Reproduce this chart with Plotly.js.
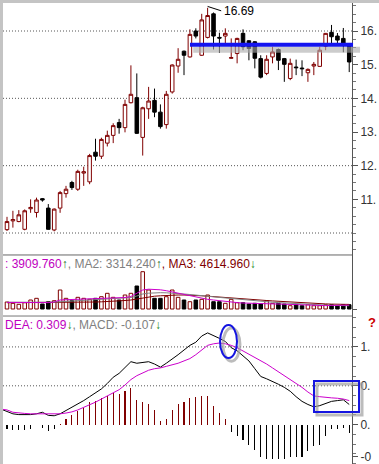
<!DOCTYPE html>
<html><head><meta charset="utf-8">
<script src="https://cdn.plot.ly/plotly-3.0.1.min.js"></script>
<style>
html,body{margin:0;padding:0;background:#fff;overflow:hidden;}
#wrap{position:absolute;left:0;top:0;width:379px;height:464px;background:#c4c4c4;}
#chart{position:absolute;left:3px;top:3px;width:376px;height:461px;background:#fff;overflow:hidden;}
</style></head><body>
<div id="wrap"><div id="chart"></div></div>
<script>
// ---- price data (daily candles) ----
const open  = [10.10,10.36,10.34,10.11,10.72,10.61,11.02,10.74,10.09,10.74,11.17,11.50,11.30,11.78,11.52,12.40,12.28,12.67,12.90,13.28,13.13,13.87,14.02,12.84,13.69,13.94,13.59,13.22,14.19,14.96,15.40,15.23,16.00,15.28,15.81,16.51,15.81,15.85,15.19,15.33,15.93,15.71,15.68,15.18,14.74,15.23,15.45,15.18,14.59,14.93,14.90,14.76,14.96,14.95,15.55,15.96,15.85,15.78,15.63];
const high  = [10.48,10.66,10.68,10.70,11.00,11.05,11.04,10.86,10.73,11.25,11.40,11.55,11.88,11.97,12.35,12.80,12.83,13.04,13.26,13.39,13.96,14.98,14.74,13.75,14.34,14.29,13.82,14.22,15.01,15.49,15.42,16.05,16.08,16.51,16.69,16.55,15.95,16.08,15.78,15.80,16.05,15.73,15.70,15.28,15.28,15.53,15.48,15.20,15.18,15.15,15.13,14.89,15.08,15.53,15.94,16.18,15.94,16.09,15.64];
const low   = [10.06,10.16,10.32,10.08,10.60,10.46,10.93,10.10,10.05,10.60,11.05,11.28,11.25,11.40,11.45,12.15,12.20,12.57,12.67,12.95,12.99,13.85,12.94,12.30,13.39,13.44,13.10,13.10,14.14,14.76,14.69,15.21,15.78,15.26,15.78,15.45,15.35,15.63,15.18,15.04,15.43,15.13,14.89,14.59,14.69,15.04,14.84,14.49,14.54,14.69,14.66,14.49,14.69,14.93,15.43,15.58,15.64,15.37,14.78];
const close = [10.34,10.40,10.54,10.66,10.76,10.98,10.98,10.11,10.71,11.20,11.30,11.35,11.83,11.82,12.30,12.28,12.78,12.90,13.19,13.13,13.82,14.12,12.96,13.72,13.92,13.59,13.16,14.12,14.99,15.16,15.28,15.90,15.85,16.33,16.46,15.85,15.79,15.93,15.21,15.78,15.53,15.48,15.19,14.63,15.16,15.38,15.13,15.01,15.04,14.91,14.88,14.86,15.01,15.43,15.93,15.83,15.73,15.63,15.08];
const highLabel = 16.69;
const resistance = 15.59;

// ---- volume (thousands) and its moving averages ----
const volume = [7.0,5.7,4.7,6.3,9.0,10.7,5.0,7.3,8.3,19.0,10.7,8.3,11.7,10.7,9.7,10.7,12.3,15.7,11.7,9.0,14.0,15.7,23.0,37.3,19.0,10.7,10.7,12.3,19.0,11.7,9.0,7.3,9.0,9.7,14.0,7.3,7.3,5.7,9.7,6.3,6.3,5.0,5.7,5.0,8.3,5.7,5.7,5.0,3.3,4.3,3.3,4.3,3.3,3.3,4.3,4.3,3.3,4.3,4.3];
const volMA1 = [6.6,6.5,6.4,6.3,6.3,6.5,6.6,6.4,7.0,9.0,9.3,9.5,9.6,9.8,10.0,10.2,10.4,10.5,10.7,11.0,11.5,12.5,15.5,19.0,19.8,19.7,19.2,18.3,17.0,15.7,14.2,13.0,11.8,10.5,9.7,9.0,8.2,7.3,6.8,6.4,6.0,5.7,5.5,5.3,5.2,5.1,5.0,4.8,4.5,4.2,3.9,3.6,3.4,3.3,3.4,3.6,3.8,3.9,3.9];
const volMA2 = [6.8,6.7,6.6,6.6,6.6,6.7,6.8,6.8,6.9,7.2,7.5,7.8,8.1,8.4,8.7,9.0,9.3,9.6,9.9,10.2,10.5,11.5,13.0,15.0,15.8,16.2,16.3,16.2,16.0,15.5,15.0,14.5,14.1,13.5,12.8,12.2,11.6,11.0,10.5,10.0,9.4,8.8,8.2,7.6,7.2,6.8,6.4,6.0,5.6,5.2,4.9,4.6,4.3,4.1,3.9,3.7,3.5,3.4,3.3];
const volMA3 = [6.3,6.3,6.3,6.3,6.3,6.4,6.4,6.5,6.5,6.6,6.7,6.7,6.8,6.8,6.9,7.0,7.2,7.4,7.8,8.1,8.5,9.0,10.0,11.5,12.3,12.8,13.2,13.6,13.8,14.0,14.0,13.9,13.6,13.2,12.8,12.3,11.8,11.3,10.8,10.4,10.0,9.7,9.3,8.9,8.5,8.1,7.7,7.3,7.0,6.6,6.2,5.9,5.6,5.3,5.1,4.9,4.8,4.7,4.6];

// ---- MACD (DIF / DEA start one day before the first candle) ----
const dif = [0.20,0.17,0.14,0.13,0.13,0.13,0.14,0.16,0.12,0.115,0.14,0.18,0.22,0.26,0.31,0.36,0.41,0.46,0.53,0.61,0.66,0.74,0.81,0.79,0.80,0.81,0.78,0.74,0.79,0.84,0.90,0.96,1.02,1.06,1.14,1.18,1.15,1.11,1.07,0.99,0.95,0.89,0.82,0.72,0.62,0.59,0.56,0.52,0.48,0.43,0.36,0.30,0.26,0.23,0.245,0.27,0.30,0.31,0.32,0.26];
const dea = [0.20,0.19,0.16,0.15,0.145,0.14,0.14,0.14,0.14,0.14,0.14,0.15,0.165,0.19,0.22,0.25,0.29,0.33,0.37,0.41,0.45,0.51,0.58,0.63,0.67,0.70,0.72,0.73,0.75,0.77,0.79,0.82,0.85,0.90,0.96,1.02,1.04,1.05,1.04,1.02,0.99,0.95,0.91,0.87,0.82,0.78,0.73,0.68,0.63,0.59,0.54,0.48,0.42,0.37,0.36,0.35,0.345,0.34,0.33,0.31];
const macdHist = [-0.05,-0.065,-0.065,-0.065,-0.05,-0.01,-0.04,-0.08,-0.05,0.01,0.073,0.13,0.18,0.21,0.29,0.30,0.34,0.37,0.41,0.39,0.43,0.47,0.32,0.29,0.27,0.19,0.05,0.07,0.19,0.26,0.29,0.34,0.36,0.37,0.37,0.24,0.15,0.07,-0.10,-0.14,-0.20,-0.26,-0.32,-0.42,-0.44,-0.44,-0.44,-0.44,-0.42,-0.41,-0.41,-0.34,-0.28,-0.26,-0.14,-0.06,-0.055,-0.04,-0.107];

// ---- axis ticks (labels as far as the reference window shows them) ----
const priceTicks = [11,12,13,14,15,16];
const priceTickText = ['11.','12.','13.','14.','15.','16.'];
const priceGrid = [10,12,14,16];
const macdTicks = [-0.41,0,0.5,1];
const macdTickText = ['-0','0.','0.','1.'];
const macdGrid = [0.5,1];

const dayIndex = open.map((_, i) => i);
const macdIndex = dif.map((_, i) => i - 1);
const isUp = dayIndex.map(i => close[i] >= open[i]);

const FONT = 'Liberation Sans, Arial, sans-serif';
const MAROON = '#800000', MAGENTA = '#cc00cc', GRAY = '#808080';

const traces = [
  {type:'candlestick', x:dayIndex, open, high, low, close, xaxis:'x', yaxis:'y',
   increasing:{line:{color:MAROON, width:1}, fillcolor:'#ffffff'},
   decreasing:{line:{color:'#000000', width:1}, fillcolor:'#000000'},
   whiskerwidth:0, hoverinfo:'skip'},
  {type:'bar', x:dayIndex, y:volume, xaxis:'x', yaxis:'y2', width:0.6,
   marker:{color:isUp.map(u => u ? '#ffffff' : '#000000'),
           line:{color:isUp.map(u => u ? MAROON : '#000000'), width:1}}, hoverinfo:'skip'},
  {type:'scatter', mode:'lines', x:dayIndex, y:volMA3, yaxis:'y2', line:{color:MAROON, width:1}, hoverinfo:'skip'},
  {type:'scatter', mode:'lines', x:dayIndex, y:volMA2, yaxis:'y2', line:{color:GRAY, width:1}, hoverinfo:'skip'},
  {type:'scatter', mode:'lines', x:dayIndex, y:volMA1, yaxis:'y2', line:{color:MAGENTA, width:1}, hoverinfo:'skip'},
  {type:'bar', x:dayIndex, y:macdHist, xaxis:'x', yaxis:'y3', width:0.18,
   marker:{color:macdHist.map(v => v >= 0 ? MAROON : '#000000'), line:{width:0}}, hoverinfo:'skip'},
  {type:'scatter', mode:'lines', x:macdIndex, y:dif, yaxis:'y3', line:{color:'#000000', width:1}, hoverinfo:'skip'},
  {type:'scatter', mode:'lines', x:macdIndex, y:dea, yaxis:'y3', line:{color:MAGENTA, width:1}, hoverinfo:'skip'}
];

const axisCommon = {side:'right', anchor:'x', showline:true, linecolor:'#555', linewidth:1,
  ticks:'outside', ticklen:5, tickcolor:'#555', showgrid:false, zeroline:false, fixedrange:true,
  ticklabeloverflow:'allow', tickfont:{family:FONT, size:12, color:'#333'}};

const shapes = [];
priceGrid.forEach(v => shapes.push({type:'line', xref:'paper', yref:'y', x0:0, x1:1, y0:v, y1:v,
  line:{color:'#555', width:1, dash:'1px,2px'}, layer:'below'}));
macdGrid.forEach(v => shapes.push({type:'line', xref:'paper', yref:'y3', x0:0, x1:1, y0:v, y1:v,
  line:{color:'#555', width:1, dash:'1px,2px'}, layer:'below'}));
// panel separators
shapes.push({type:'line', xref:'paper', yref:'paper', x0:0, x1:1, y0:0.4534, y1:0.4534, line:{color:'#666', width:1}});
shapes.push({type:'line', xref:'paper', yref:'paper', x0:0, x1:1, y0:0.3210, y1:0.3210, line:{color:'#777', width:1}});
// resistance line with shadow
shapes.push({type:'line', xref:'paper', yref:'y', x0:0.545, x1:1.023, y0:resistance-0.15, y1:resistance-0.15,
  line:{color:'rgba(170,170,170,0.6)', width:6}});
shapes.push({type:'line', xref:'paper', yref:'y', x0:0.5358, x1:1.003, y0:resistance, y1:resistance,
  line:{color:'#1414f0', width:4}});
// high label leader
shapes.push({type:'line', xref:'x', yref:'y', x0:34, x1:36.3, y0:highLabel+0.04, y1:highLabel-0.09,
  line:{color:'#000', width:1}});
// ellipse highlight with shadow
shapes.push({type:'circle', xref:'paper', yref:'paper', x0:0.630, x1:0.679, y0:0.223, y1:0.295,
  line:{color:'rgba(160,160,160,0.7)', width:3}});
shapes.push({type:'circle', xref:'paper', yref:'paper', x0:0.6218, x1:0.6705, y0:0.2299, y1:0.3015,
  line:{color:'#1414e0', width:2}});
// rectangle highlight with shadow
shapes.push({type:'rect', xref:'paper', yref:'paper', x0:0.8997, x1:1.0287, y0:0.1063, y1:0.1735,
  line:{color:'rgba(160,160,160,0.7)', width:3}});
shapes.push({type:'rect', xref:'paper', yref:'paper', x0:0.8911, x1:1.0201, y0:0.1128, y1:0.1800,
  line:{color:'#1414e0', width:2}});

const annotations = [
  {xref:'x', yref:'y', x:36.4, y:highLabel-0.1, text:String(highLabel), showarrow:false,
   xanchor:'left', yanchor:'middle', font:{family:FONT, size:12, color:'#000'}},
  {xref:'paper', yref:'paper', x:0, y:0.4338, xanchor:'left', yanchor:'middle', showarrow:false,
   font:{family:FONT, size:12},
   text:'<span style="color:#c000c0">: 3909.760</span><span style="color:#1a6a1a">↑</span><span style="color:#808080">, MA2: 3314.240</span><span style="color:#1a6a1a">↑</span><span style="color:#800000">, MA3: 4614.960</span><span style="color:#1a8a1a">↓</span>'},
  {xref:'paper', yref:'paper', x:0, y:0.3015, xanchor:'left', yanchor:'middle', showarrow:false,
   font:{family:FONT, size:12},
   text:'<span style="color:#c000c0">DEA: 0.309</span><span style="color:#1a8a1a">↓</span><span style="color:#808080">, MACD: -0.107</span><span style="color:#1a8a1a">↓</span>'},
  {xref:'paper', yref:'paper', x:1.057, y:0.308, xanchor:'center', yanchor:'middle', showarrow:false,
   text:'<b>?</b>', font:{family:FONT, size:13, color:'#cc0000'}}
];

const layout = {
  width:376, height:461, margin:{l:0, r:27, t:0, b:0},
  paper_bgcolor:'#ffffff', plot_bgcolor:'#ffffff', showlegend:false,
  boxgap:0.4, boxgroupgap:0, bargap:0,
  xaxis:{range:[-0.678, 58.47], visible:false, rangeslider:{visible:false}, fixedrange:true},
  yaxis:Object.assign({}, axisCommon, {domain:[0.4534, 1], range:[9.347, 16.832],
    tickmode:'array', tickvals:priceTicks, ticktext:priceTickText,
    minor:{ticks:'outside', ticklen:3, dtick:0.25, tick0:0, tickcolor:'#777', showgrid:false}}),
  yaxis2:Object.assign({}, axisCommon, {domain:[0.3210, 0.4534], range:[-7, 54],
    tickmode:'array', tickvals:[0], showticklabels:false, ticklen:4}),
  yaxis3:Object.assign({}, axisCommon, {domain:[0, 0.3210], range:[-0.505, 1.397],
    tickmode:'array', tickvals:macdTicks, ticktext:macdTickText,
    minor:{ticks:'outside', ticklen:3, dtick:0.125, tick0:0, tickcolor:'#777', showgrid:false}}),
  shapes, annotations
};

Plotly.newPlot('chart', traces, layout, {displayModeBar:false, staticPlot:true});
</script>
</body></html>
